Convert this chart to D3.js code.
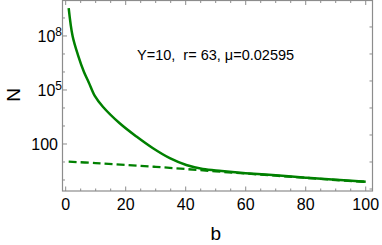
<!DOCTYPE html>
<html>
<head>
<meta charset="utf-8">
<script src="https://cdn.jsdelivr.net/npm/d3@7"></script>
<style>
  body { margin: 0; background: #fff; }
  text { font-family: "Liberation Sans", Arial, sans-serif; fill: #000; white-space: pre; }
</style>
</head>
<body>
<div id="chart"></div>
<script>
// values
var solidB = [1, 2.3, 4.1, 6.1, 7.7, 9.7, 12.4, 18, 23.6, 29.1, 34.7, 40.2, 45.7, 52, 60, 70, 80, 90, 100];
var solidN = [3.55e9, 1e8, 8.7e6, 1e6, 2.63e5, 4.68e4, 1.17e4, 1410, 257, 57.5, 16.2, 6.76, 4.07, 3.16, 2.4, 1.82, 1.35, 1.02, 0.81];
var dashB = [1, 10, 20, 30, 40, 50, 60, 70, 80, 90, 100];
var dashN = [10.5, 8.71, 6.92, 5.37, 4.07, 3.02, 2.29, 1.74, 1.32, 1.0, 0.79];
var xTicks = [0, 20, 40, 60, 80, 100];
var yTicks = [[2, "100"], [5, "10", "5"], [8, "10", "8"]];
var label = "Y=10,  r= 63, \u03bc=0.02595";

var WIDTH = 382, HEIGHT = 245;
var L = 62.5, R = 372.5, T = 0.5, B = 191;
var GREEN = "#008000", FRAME = "#8c8c8c";

var svg = d3.select("#chart").append("svg")
    .attr("width", WIDTH)
    .attr("height", HEIGHT);

var x = d3.scaleLinear().domain([-1.06, 102.26]).range([L, R]);
var y = d3.scaleLog().domain([Math.pow(10, -0.611), Math.pow(10, 9.97)]).range([B, T]);

// ticks
var tickG = svg.append("g").attr("stroke", FRAME).attr("stroke-width", 1);
d3.range(0, 101, 5).forEach(function (v) {
    var len = v % 20 === 0 ? 4.5 : 2.5;
    tickG.append("line").attr("x1", x(v)).attr("x2", x(v)).attr("y1", B).attr("y2", B - len);
    tickG.append("line").attr("x1", x(v)).attr("x2", x(v)).attr("y1", T).attr("y2", T + len);
});
d3.range(0, 10).forEach(function (e) {
    var len = (e === 2 || e === 5 || e === 8) ? 4.5 : 2.5;
    var yy = y(Math.pow(10, e));
    tickG.append("line").attr("x1", L).attr("x2", L + len).attr("y1", yy).attr("y2", yy);
});
d3.range(-0.5, 10.1, 1.5).forEach(function (e) {
    var yy = y(Math.pow(10, e));
    if (yy < T || yy > B) return;
    tickG.append("line").attr("x1", R).attr("x2", R - 3).attr("y1", yy).attr("y2", yy);
});

// frame
svg.append("rect")
    .attr("x", L).attr("y", T)
    .attr("width", R - L).attr("height", B - T)
    .attr("fill", "none")
    .attr("stroke", FRAME)
    .attr("stroke-width", 1.2);

// tick labels
svg.selectAll("text.xt")
    .data(xTicks).enter()
    .append("text")
    .attr("class", "xt")
    .attr("x", function (d) { return x(d); })
    .attr("y", 210)
    .attr("text-anchor", "middle")
    .style("font-size", "16px")
    .text(function (d) { return d; });

yTicks.forEach(function (t) {
    var txt = svg.append("text")
        .attr("x", t[2] ? 62 : 58)
        .attr("y", y(Math.pow(10, t[0])) + 6)
        .attr("text-anchor", "end")
        .style("font-size", "16px");
    txt.append("tspan").text(t[1]);
    if (t[2]) {
        txt.append("tspan").attr("dy", -6).style("font-size", "12px").text(t[2]);
    }
});

// axis titles
svg.append("text")
    .attr("x", x(50))
    .attr("y", 240)
    .attr("text-anchor", "middle")
    .style("font-size", "19px")
    .text("b");

svg.append("text")
    .attr("transform", "translate(20,95)rotate(-90)")
    .attr("text-anchor", "middle")
    .style("font-size", "19px")
    .text("N");

svg.append("text")
    .attr("x", 137)
    .attr("y", 60)
    .style("font-size", "14.5px")
    .text(label);

// curves
var line = d3.line()
    .x(function (d) { return x(d[0]); })
    .y(function (d) { return y(d[1]); })
    .curve(d3.curveCatmullRom.alpha(0.5));

svg.append("path")
    .datum(d3.zip(dashB, dashN))
    .attr("d", line)
    .attr("fill", "none")
    .attr("stroke", GREEN)
    .attr("stroke-width", 2.3)
    .attr("stroke-dasharray", "8,4");

svg.append("path")
    .datum(d3.zip(solidB, solidN))
    .attr("d", line)
    .attr("fill", "none")
    .attr("stroke", GREEN)
    .attr("stroke-width", 2.5);
</script>
</body>
</html>
